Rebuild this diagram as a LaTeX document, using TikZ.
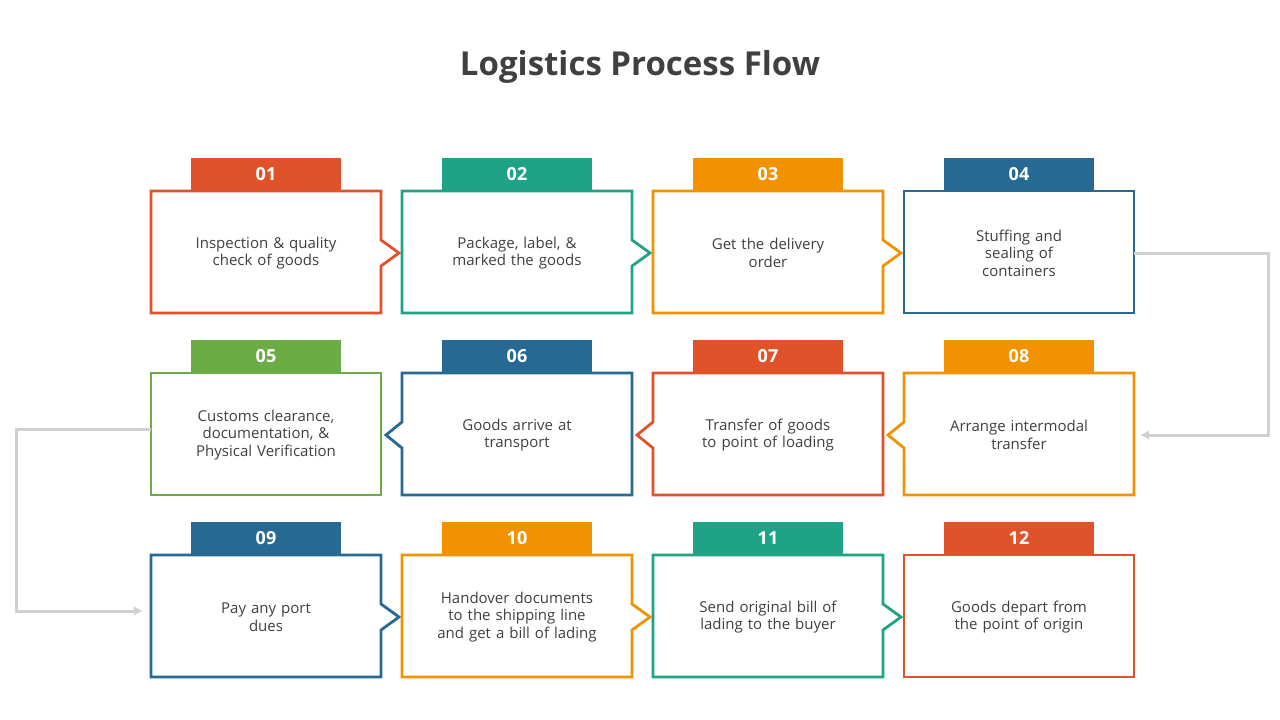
\documentclass[tikz,border=0pt]{standalone}
\usepackage{fontspec}
\setmainfont{Open Sans}
\usetikzlibrary{calc, arrows.meta}
\definecolor{cred}{HTML}{E0532A}
\definecolor{cteal}{HTML}{1FA386}
\definecolor{corange}{HTML}{F39200}
\definecolor{cblue}{HTML}{266A94}
\definecolor{cgreen}{HTML}{6BAC45}
\definecolor{ctext}{HTML}{404040}
\definecolor{cline}{HTML}{D0D0D0}
\tikzset{
  stepbox/.style={minimum width=230pt, minimum height=122pt, inner sep=0pt,
    align=center, text width=200pt, font=\fontsize{15}{17.5}\selectfont, text=ctext},
  steptab/.style={minimum width=150pt, minimum height=33pt, inner sep=0pt,
    text=white, font=\bfseries\fontsize{18}{20}\selectfont},
  outline/.style={line width=2.8pt, fill=white},
  link/.style={cline, line width=3pt, -{Latex[length=9pt,width=10pt]}},
}
\begin{document}
\begin{tikzpicture}[x=1pt, y=-1pt]
    \useasboundingbox (0,0) rectangle (1280,720);
    \node[font=\bfseries\fontsize{33}{38}\selectfont, text=ctext] (title) at (640,67) {Logistics Process Flow};

    % num/col/row/colour/pointer (1 right, 2 left, 0 none)/text
    \foreach \n/\c/\r/\col/\pt/\txt in {
        01/0/0/cred/1/{Inspection \& quality\\check of goods},
        02/1/0/cteal/1/{Package, label, \&\\marked the goods},
        03/2/0/corange/1/{Get the delivery\\order},
        04/3/0/cblue/0/{Stuffing and\\sealing of\\containers},
        05/0/1/cgreen/0/{Customs clearance,\\documentation, \&\\Physical Verification},
        06/1/1/cblue/2/{Goods arrive at\\transport},
        07/2/1/cred/2/{Transfer of goods\\to point of loading},
        08/3/1/corange/2/{Arrange intermodal\\transfer},
        09/0/2/cblue/1/{Pay any port\\dues},
        10/1/2/corange/1/{Handover documents\\to the shipping line\\and get a bill of lading},
        11/2/2/cteal/1/{Send original bill of\\lading to the buyer},
        12/3/2/cred/0/{Goods depart from\\the point of origin}} {
        \pgfmathsetmacro{\bx}{151+251*\c}
        \pgfmathsetmacro{\by}{191+182*\r}
        % outline with pointer
        \ifnum\pt=1
          \draw[outline, draw=\col] (\bx,\by) -- ++(230,0) -- ++(0,49) -- ++(18,13) -- ++(-18,13)
            -- (\bx+230,\by+122) -- (\bx,\by+122) -- cycle;
        \else\ifnum\pt=2
          \draw[outline, draw=\col] (\bx,\by) -- ++(230,0) -- ++(0,122) -- ++(-230,0) -- (\bx,\by+75)
            -- ++(-16,-13) -- ++(16,-13) -- cycle;
        \else
          \draw[outline, draw=\col] (\bx,\by) rectangle ++(230,122);
        \fi\fi
        \node[stepbox] (box\n) at (\bx+115,\by+62) {\txt};
        \node[steptab, fill=\col] (tab\n) at (\bx+115,\by-17) {\n};
    }

    % row connectors
    \draw[link] (box04.east) -- ++(134,0) |- ([xshift=6pt]box08.east);
    \draw[link] ([yshift=6pt]box05.west) -- ++(-134,0) |- ([xshift=-8pt,yshift=6pt]box09.west);
\end{tikzpicture}
\end{document}
